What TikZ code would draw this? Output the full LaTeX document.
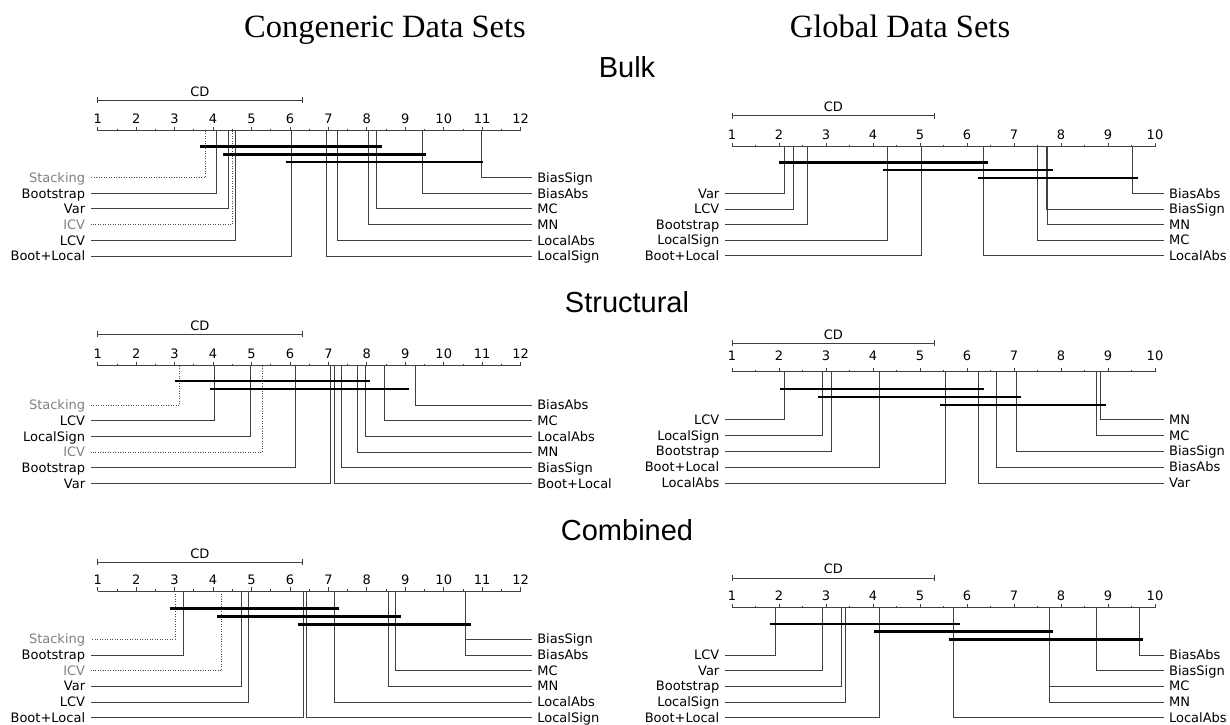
\documentclass[tikz,border=0pt]{standalone}
\usepackage{fontspec}
\newfontfamily\dv{DejaVu Sans}
\newfontfamily\lsans{Liberation Sans}
\newfontfamily\lserif{Liberation Serif}
\tikzset{
 axl/.style={draw=black!75, line width=0.8pt},
 mline/.style={draw=black!75, line width=0.8pt},
 dline/.style={draw=black!70, line width=0.8pt, dash pattern=on 0.9pt off 1.6pt},
 cbar/.style={draw=black, line width=2.6pt},
 num/.style={font=\dv\fontsize{13}{15}\selectfont, inner sep=0pt, text height=9.4pt, text depth=0pt},
 mlab/.style={num, outer xsep=5.5pt},
 glab/.style={mlab, text=black!50},
 ttl/.style={font=\lsans\fontsize{29}{34}\selectfont, inner sep=0pt, anchor=base},
 hdr/.style={font=\lserif\fontsize{32.5}{38}\selectfont, inner sep=0pt, anchor=base},
}
% #1 x of rank 1, #2 unit, #3 n, #4 axis y, #5 tick label y, #6 CD bar y, #7 CD end x, #8 CD label y, #9 prefix
\newcommand\cdaxis[9]{%
 \pgfmathtruncatemacro\cdN{#3-1}%
 \draw[axl] (#1,#4) -- ({#1+(#3-1)*#2},#4);
 \foreach \i in {1,...,#3}{
   \draw[axl] ({#1+(\i-1)*#2},#4) -- ++(0,-4);
   \node[num] (#9t\i) at ({#1+(\i-1)*#2},#5) {\i};
 }
 \foreach \i in {1,...,\cdN}{\draw[axl] ({#1+(\i-0.5)*#2},#4) -- ++(0,-2);}
 \draw[axl] (#1,#6) -- (#7,#6);
 \draw[axl] (#1,{#6-3}) -- (#1,{#6+3});
 \draw[axl] (#7,{#6-3}) -- (#7,{#6+3});
 \node[num] (#9cd) at ({(#1+#7)/2},#8) {CD};
}
% #1 line style, #2 name, #3 anchor, #4 line end x, #5 rank x, #6 label y, #7 axis y, #8 text, #9 label style
\newcommand\meth[9][mline]{%
 \node[#9,anchor=#3] (#2) at (#4,#6) {#8};
 \draw[#1] (#5,#7) |- (#2.#3);
}
\begin{document}
\begin{tikzpicture}[x=1pt,y=-1pt]
\useasboundingbox (0,0) rectangle (1230,724);

% headers
\node[hdr] (h1) at (385,37.5) {Congeneric Data Sets};
\node[hdr] (h2) at (900,37.5) {Global Data Sets};
\node[ttl] (s1) at (627,77.3) {Bulk};
\node[ttl] (s2) at (627,312) {Structural};
\node[ttl] (s3) at (627,540) {Combined};

% ---------- Bulk, congeneric ----------
\cdaxis{97.7}{38.45}{12}{130.7}{119}{100}{302}{91.7}{a}
\meth[dline]{aStk}{east}{90.6}{205.3}{177.7}{130.7}{Stacking}{glab}
\meth{aBoot}{east}{90.6}{216.7}{193.3}{130.7}{Bootstrap}{mlab}
\meth{aVar}{east}{90.6}{228.3}{208.7}{130.7}{Var}{mlab}
\meth[dline]{aICV}{east}{90.6}{232.3}{224.3}{130.7}{ICV}{glab}
\meth{aLCV}{east}{90.6}{235.7}{240.3}{130.7}{LCV}{mlab}
\meth{aBL}{east}{90.6}{291.7}{256}{130.7}{Boot+Local}{mlab}
\meth{aBS}{west}{531.8}{481.3}{177.7}{130.7}{BiasSign}{mlab}
\meth{aBA}{west}{531.8}{422.1}{193.3}{130.7}{BiasAbs}{mlab}
\meth{aMC}{west}{531.8}{376}{208.7}{130.7}{MC}{mlab}
\meth{aMN}{west}{531.8}{368.8}{224.3}{130.7}{MN}{mlab}
\meth{aLA}{west}{531.8}{337.8}{240.3}{130.7}{LocalAbs}{mlab}
\meth{aLS}{west}{531.8}{326.7}{256}{130.7}{LocalSign}{mlab}
\draw[cbar] (200,146.5) -- (381.6,146.5);
\draw[cbar] (223.3,154.2) -- (425.7,154.2);
\draw[cbar] (286.2,162) -- (483.3,162);

% ---------- Bulk, global ----------
\cdaxis{732}{47}{10}{146.7}{134.5}{115.5}{934.8}{107}{b}
\meth{bVar}{east}{724.8}{784}{193.3}{146.7}{Var}{mlab}
\meth{bLCV}{east}{724.8}{793.5}{209}{146.7}{LCV}{mlab}
\meth{bBoot}{east}{724.8}{807.5}{224.3}{146.7}{Bootstrap}{mlab}
\meth{bLS}{east}{724.8}{887.5}{240}{146.7}{LocalSign}{mlab}
\meth{bBL}{east}{724.8}{921.5}{255.7}{146.7}{Boot+Local}{mlab}
\meth{bBA}{west}{1163.6}{1132}{193.3}{146.7}{BiasAbs}{mlab}
\meth{bBS}{west}{1163.6}{1046.5}{209}{146.7}{BiasSign}{mlab}
\meth{bMN}{west}{1163.6}{1047.5}{224.3}{146.7}{MN}{mlab}
\meth{bMC}{west}{1163.6}{1037.5}{240}{146.7}{MC}{mlab}
\meth{bLA}{west}{1163.6}{983}{255.7}{146.7}{LocalAbs}{mlab}
\draw[cbar] (779,162.2) -- (988,162.2);
\draw[cbar] (882.5,170) -- (1052.5,170);
\draw[cbar] (977.8,178) -- (1137.5,178);

% ---------- Structural, congeneric ----------
\cdaxis{97.7}{38.45}{12}{365.7}{353.3}{334.3}{302}{325.7}{c}
\meth[dline]{cStk}{east}{90.6}{179.6}{405}{365.7}{Stacking}{glab}
\meth{cLCV}{east}{90.6}{214.6}{420.7}{365.7}{LCV}{mlab}
\meth{cLS}{east}{90.6}{250.4}{436.3}{365.7}{LocalSign}{mlab}
\meth[dline]{cICV}{east}{90.6}{262.3}{452}{365.7}{ICV}{glab}
\meth{cBoot}{east}{90.6}{294.9}{467.3}{365.7}{Bootstrap}{mlab}
\meth{cVar}{east}{90.6}{329.9}{483.3}{365.7}{Var}{mlab}
\meth{cBA}{west}{531.8}{415.3}{405}{365.7}{BiasAbs}{mlab}
\meth{cMC}{west}{531.8}{384.3}{420.7}{365.7}{MC}{mlab}
\meth{cLA}{west}{531.8}{364.9}{436.3}{365.7}{LocalAbs}{mlab}
\meth{cMN}{west}{531.8}{357.7}{452}{365.7}{MN}{mlab}
\meth{cBS}{west}{531.8}{341.8}{467.3}{365.7}{BiasSign}{mlab}
\meth{cBL}{west}{531.8}{333.9}{483.3}{365.7}{Boot+Local}{mlab}
\draw[cbar] (174.9,381) -- (369.6,381);
\draw[cbar] (209.5,389) -- (408.6,389);

% ---------- Structural, global ----------
\cdaxis{732}{47}{10}{371.7}{356}{343.3}{934.8}{335}{d}
\meth{dLCV}{east}{724.8}{784.3}{419.3}{371.7}{LCV}{mlab}
\meth{dLS}{east}{724.8}{822.2}{435.3}{371.7}{LocalSign}{mlab}
\meth{dBoot}{east}{724.8}{831.6}{451}{371.7}{Bootstrap}{mlab}
\meth{dBL}{east}{724.8}{878.9}{467}{371.7}{Boot+Local}{mlab}
\meth{dLA}{east}{724.8}{945}{483}{371.7}{LocalAbs}{mlab}
\meth{dMN}{west}{1163.6}{1100.3}{419.3}{371.7}{MN}{mlab}
\meth{dMC}{west}{1163.6}{1096}{435.3}{371.7}{MC}{mlab}
\meth{dBS}{west}{1163.6}{1016.2}{451}{371.7}{BiasSign}{mlab}
\meth{dBA}{west}{1163.6}{996.6}{467}{371.7}{BiasAbs}{mlab}
\meth{dVar}{west}{1163.6}{978.2}{483}{371.7}{Var}{mlab}
\draw[cbar] (779.6,389) -- (983.7,389);
\draw[cbar] (817.5,397) -- (1020.9,397);
\draw[cbar] (939.9,405) -- (1106.1,405);

% ---------- Combined, congeneric ----------
\cdaxis{97.7}{38.45}{12}{591}{580}{562.3}{302}{553.3}{e}
\meth[dline]{eStk}{east}{90.6}{174.9}{639}{591}{Stacking}{glab}
\meth{eBoot}{east}{90.6}{183.2}{655}{591}{Bootstrap}{mlab}
\meth[dline]{eICV}{east}{90.6}{221.4}{670.7}{591}{ICV}{glab}
\meth{eVar}{east}{90.6}{240.9}{686}{591}{Var}{mlab}
\meth{eLCV}{east}{90.6}{248.8}{702}{591}{LCV}{mlab}
\meth{eBL}{east}{90.6}{302.9}{717.3}{591}{Boot+Local}{mlab}
\meth{eBS}{west}{531.8}{465.8}{639}{591}{BiasSign}{mlab}
\meth{eBA}{west}{531.8}{465.8}{655}{591}{BiasAbs}{mlab}
\meth{eMC}{west}{531.8}{395.5}{670.7}{591}{MC}{mlab}
\meth{eMN}{west}{531.8}{388.7}{686}{591}{MN}{mlab}
\meth{eLA}{west}{531.8}{333.9}{702}{591}{LocalAbs}{mlab}
\meth{eLS}{west}{531.8}{306.8}{717.3}{591}{LocalSign}{mlab}
\draw[cbar] (170.1,608.3) -- (339,608.3);
\draw[cbar] (216.6,616.3) -- (401.4,616.3);
\draw[cbar] (298.1,624.3) -- (471,624.3);

% ---------- Combined, global ----------
\cdaxis{732}{47}{10}{607.7}{595.7}{578.3}{934.8}{569}{f}
\meth{fLCV}{east}{724.8}{775.3}{655}{607.7}{LCV}{mlab}
\meth{fVar}{east}{724.8}{822.2}{670.7}{607.7}{Var}{mlab}
\meth{fBoot}{east}{724.8}{841.4}{686}{607.7}{Bootstrap}{mlab}
\meth{fLS}{east}{724.8}{845.7}{702}{607.7}{LocalSign}{mlab}
\meth{fBL}{east}{724.8}{878.9}{717.3}{607.7}{Boot+Local}{mlab}
\meth{fBA}{west}{1163.6}{1139}{655}{607.7}{BiasAbs}{mlab}
\meth{fBS}{west}{1163.6}{1096}{670.7}{607.7}{BiasSign}{mlab}
\meth{fMC}{west}{1163.6}{1049.4}{686}{607.7}{MC}{mlab}
\meth{fMN}{west}{1163.6}{1049.4}{702}{607.7}{MN}{mlab}
\meth{fLA}{west}{1163.6}{953.6}{717.3}{607.7}{LocalAbs}{mlab}
\draw[cbar] (769.8,624) -- (959.5,624);
\draw[cbar] (874.2,631.7) -- (1053.3,631.7);
\draw[cbar] (949.3,639.7) -- (1143.3,639.7);
\end{tikzpicture}
\end{document}
